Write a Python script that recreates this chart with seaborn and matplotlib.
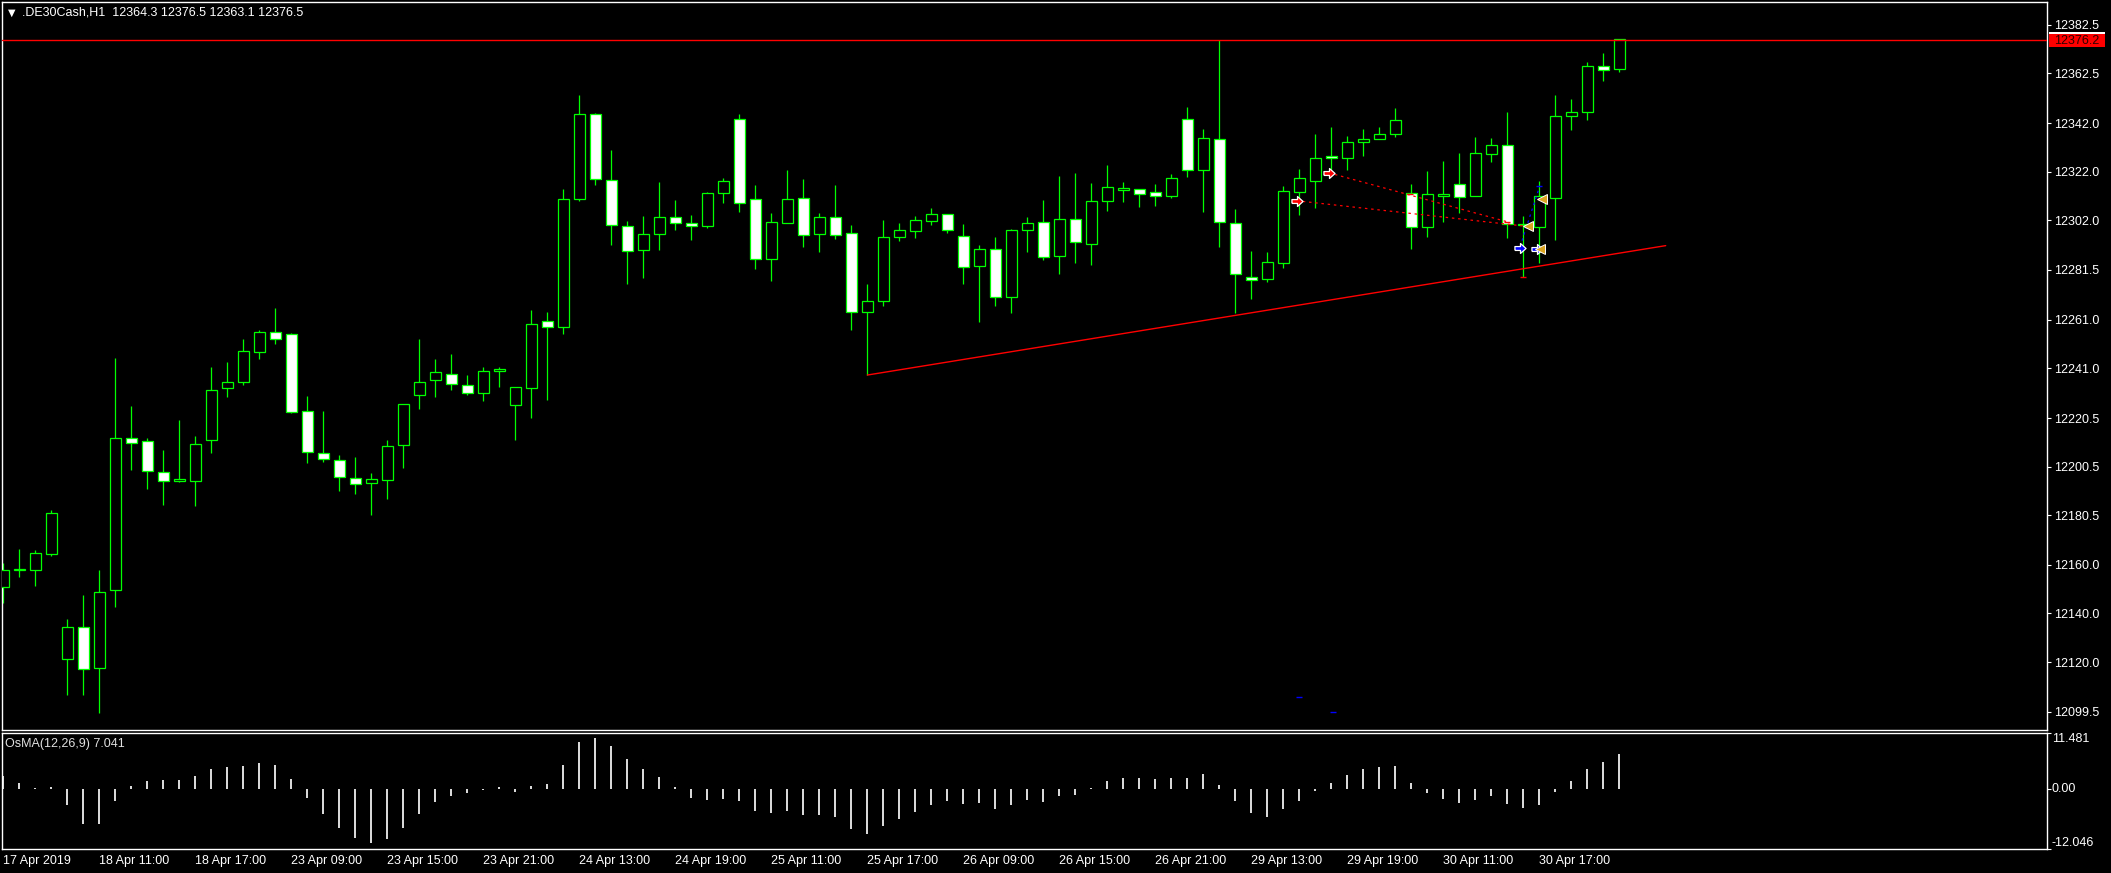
import matplotlib
matplotlib.use("Agg")
import matplotlib.pyplot as plt
from matplotlib.patches import Rectangle
import numpy as np
import seaborn as sns

# chart header / labels
title_text = ".DE30Cash,H1  12364.3 12376.5 12363.1 12376.5"
osma_title = "OsMA(12,26,9) 7.041"
bid_price = 12376.2

# H1 candles (bar 0 = 17 Apr 19:00)
opens = [12150.7, 12157.8, 12158.0, 12164.3, 12121.4, 12134.3, 12117.4, 12149.5, 12212.4, 12210.9,
         12198.1, 12194.4, 12194.4, 12211.4, 12232.7, 12235.2, 12247.5, 12256.1, 12255.3, 12223.2,
         12205.9, 12203.4, 12196.0, 12193.7, 12194.9, 12209.3, 12229.8, 12236.0, 12238.8, 12234.0,
         12230.7, 12239.7, 12225.8, 12232.7, 12260.3, 12257.9, 12310.9, 12345.6, 12318.4, 12299.5,
         12289.6, 12296.2, 12303.1, 12300.7, 12299.7, 12313.3, 12343.5, 12310.6, 12286.1, 12301.0,
         12311.0, 12296.4, 12303.2, 12296.6, 12264.3, 12268.8, 12295.2, 12297.7, 12301.8, 12304.4,
         12295.3, 12283.2, 12290.0, 12270.5, 12298.1, 12301.1, 12287.4, 12302.3, 12292.3, 12310.0,
         12314.5, 12314.7, 12313.4, 12312.1, 12343.5, 12322.5, 12335.3, 12300.7, 12278.4, 12277.6,
         12284.5, 12313.7, 12318.3, 12328.3, 12327.7, 12334.3, 12335.6, 12337.6, 12313.3, 12299.3,
         12312.1, 12316.8, 12312.1, 12329.4, 12332.8, 12300.0, 12299.0, 12311.3, 12345.0, 12346.7,
         12365.4, 12364.3]
highs = [12160.8, 12166.5, 12166.0, 12182.5, 12137.7, 12147.8, 12157.7, 12245.4, 12225.4, 12212.4,
         12207.2, 12219.7, 12213.1, 12241.4, 12243.7, 12253.0, 12256.8, 12265.8, 12255.5, 12229.6,
         12223.4, 12205.3, 12204.5, 12197.9, 12211.4, 12226.3, 12253.0, 12244.9, 12247.0, 12238.3,
         12241.6, 12241.6, 12233.2, 12265.0, 12264.1, 12314.9, 12353.6, 12346.1, 12330.9, 12301.7,
         12303.6, 12317.7, 12310.2, 12304.2, 12313.5, 12319.2, 12345.7, 12316.5, 12304.9, 12322.6,
         12318.9, 12304.9, 12316.5, 12300.0, 12275.7, 12302.1, 12300.8, 12303.7, 12307.0, 12304.6,
         12300.4, 12291.8, 12295.0, 12298.3, 12303.3, 12310.3, 12320.2, 12321.4, 12317.3, 12324.7,
         12317.7, 12315.0, 12316.9, 12321.0, 12348.6, 12339.5, 12376.0, 12306.6, 12289.3, 12288.7,
         12316.1, 12323.1, 12337.5, 12340.4, 12336.7, 12339.5, 12340.4, 12348.2, 12316.9, 12322.2,
         12326.4, 12329.7, 12336.2, 12335.8, 12346.5, 12303.7, 12318.0, 12353.5, 12351.9, 12367.1,
         12370.9, 12376.5]
lows = [12144.3, 12155.1, 12151.2, 12163.7, 12106.5, 12106.5, 12099.2, 12142.6, 12198.9, 12191.1,
        12184.5, 12194.2, 12184.2, 12206.2, 12229.3, 12234.1, 12245.0, 12251.1, 12222.7, 12201.9,
        12202.4, 12190.3, 12189.0, 12180.7, 12187.3, 12199.8, 12224.1, 12229.3, 12231.9, 12230.1,
        12227.5, 12233.1, 12211.6, 12220.6, 12227.9, 12254.9, 12309.7, 12316.6, 12291.7, 12275.9,
        12278.3, 12289.9, 12297.8, 12293.9, 12298.9, 12308.9, 12305.5, 12281.9, 12276.9, 12300.8,
        12290.9, 12288.9, 12294.2, 12256.7, 12238.2, 12266.6, 12293.4, 12294.8, 12300.0, 12296.8,
        12275.7, 12260.2, 12266.6, 12263.7, 12288.9, 12285.6, 12279.8, 12284.3, 12283.5, 12305.8,
        12309.5, 12307.5, 12308.0, 12311.3, 12319.8, 12305.3, 12290.9, 12263.6, 12269.4, 12276.7,
        12282.4, 12304.1, 12307.1, 12321.3, 12322.7, 12328.4, 12335.4, 12336.4, 12290.3, 12295.2,
        12301.4, 12305.1, 12311.8, 12326.1, 12294.8, 12278.4, 12284.2, 12293.8, 12339.1, 12343.4,
        12359.3, 12363.1]
closes = [12157.7, 12158.3, 12164.8, 12181.2, 12134.6, 12117.1, 12149.0, 12212.4, 12210.2, 12198.6,
          12194.4, 12195.3, 12209.7, 12232.2, 12235.2, 12248.0, 12255.8, 12253.0, 12222.9, 12206.4,
          12203.6, 12196.2, 12193.2, 12195.3, 12208.8, 12226.1, 12235.2, 12239.3, 12234.5, 12230.7,
          12239.7, 12240.5, 12233.1, 12259.1, 12257.9, 12310.6, 12345.6, 12318.9, 12300.0, 12289.1,
          12296.2, 12303.1, 12300.7, 12299.5, 12313.0, 12318.0, 12309.2, 12286.1, 12301.1, 12310.6,
          12296.0, 12303.2, 12296.0, 12264.3, 12268.6, 12294.9, 12297.8, 12301.9, 12304.4, 12298.1,
          12282.8, 12290.0, 12270.5, 12297.8, 12300.7, 12287.0, 12302.3, 12293.1, 12309.7, 12315.5,
          12315.1, 12312.9, 12311.8, 12319.4, 12322.5, 12335.7, 12301.4, 12279.7, 12277.2, 12284.6,
          12313.9, 12319.2, 12327.5, 12327.5, 12334.1, 12335.4, 12337.3, 12343.2, 12299.3, 12312.6,
          12312.8, 12311.4, 12329.5, 12332.8, 12300.4, 12300.6, 12311.9, 12344.8, 12346.4, 12365.4,
          12364.0, 12376.5]

osma = [2.63, 1.21, 0.27, 0.41, -3.23, -7.07, -7.07, -2.43, 0.61, 1.69,
        1.82, 1.82, 2.63, 4.04, 4.44, 4.65, 5.26, 4.85, 2.02, -1.82,
        -5.05, -7.89, -9.90, -10.91, -10.11, -7.89, -5.05, -2.63, -1.42, -0.81,
        -0.20, 0.41, -0.61, 0.61, 1.01, 4.85, 9.56, 10.31, 8.69, 6.06,
        4.04, 2.43, 0.41, -1.82, -2.22, -2.02, -2.43, -4.44, -4.85, -4.44,
        -5.26, -5.26, -5.66, -8.08, -9.10, -7.48, -6.06, -4.65, -3.23, -2.43,
        -3.04, -2.83, -4.04, -3.23, -2.22, -2.63, -1.42, -1.21, 0.27, 1.62,
        2.22, 2.22, 2.02, 2.22, 2.22, 3.04, 0.81, -2.43, -4.85, -5.66,
        -4.04, -2.43, -0.41, 1.21, 2.83, 4.04, 4.44, 4.65, 1.21, -0.81,
        -2.02, -2.83, -2.22, -1.42, -3.04, -3.84, -3.23, -0.49, 1.62, 4.04,
        5.46, 7.041]

bar_idx = np.arange(len(opens))

time_ticks = [0, 6, 12, 18, 24, 30, 36, 42, 48, 54, 60, 66, 72, 78, 84, 90, 96]
time_labels = ["17 Apr 2019", "18 Apr 11:00", "18 Apr 17:00", "23 Apr 09:00", "23 Apr 15:00",
               "23 Apr 21:00", "24 Apr 13:00", "24 Apr 19:00", "25 Apr 11:00", "25 Apr 17:00",
               "26 Apr 09:00", "26 Apr 15:00", "26 Apr 21:00", "29 Apr 13:00", "29 Apr 19:00",
               "30 Apr 11:00", "30 Apr 17:00"]
price_ticks = [12382.5, 12362.5, 12342.0, 12322.0, 12302.0, 12281.5, 12261.0, 12241.0,
               12220.5, 12200.5, 12180.5, 12160.0, 12140.0, 12120.0, 12099.5]
osma_ticks = [-12.046, 0.0, 11.481]
osma_tick_labels = ["-12.046", "0.00", "11.481"]

# trend line and trade arrows
trend_x = [54, 103.9]
trend_y = [12238.2, 12291.5]
sell_x = [80.83, 82.85]
sell_y = [12310.0, 12321.5]
close_x = [95.3, 96.16, 96.04]
close_y = [12299.6, 12310.6, 12290.0]
buy_x = [94.79, 95.85]
buy_y = [12290.4, 12290.0]
trade_a_x = [82.85, 93.96]
trade_a_y = [12321.5, 12301.4]
trade_b_x = [80.83, 95.01]
trade_b_y = [12310.0, 12299.6]
trade_c_x = [94.8, 96.0]
trade_c_y = [12291.1, 12315.5]
red_dash_x = [87.94, 93.96, 95.0]
red_dash_y = [12312.6, 12301.4, 12278.4]
blue_dash_x = [96.0, 80.97, 83.11]
blue_dash_y = [12316.1, 12105.6, 12099.4]

sns.set_theme(style="dark", rc={"axes.facecolor": "black", "figure.facecolor": "black",
                                "axes.edgecolor": "white", "axes.grid": False})
plt.rcParams["font.family"] = ["Liberation Sans", "DejaVu Sans"]

W, H = 2111, 873
fig = plt.figure(figsize=(W / 100, H / 100), dpi=100)
fig.patch.set_facecolor("black")
ax = fig.add_axes([2 / W, 1 - 730 / H, 2045 / W, 728 / H])
ax2 = fig.add_axes([2 / W, 1 - 849 / H, 2045 / W, 116.5 / H])

green = "#00FF00"
o = np.array(opens)
c = np.array(closes)
bull = c >= o
ax.vlines(bar_idx, lows, highs, colors=green, linewidth=0.9, zorder=2)
ax.bar(bar_idx, np.abs(c - o), bottom=np.minimum(o, c), width=0.69,
       color=np.where(bull, "black", "white"), edgecolor=green, linewidth=0.9, zorder=3)

ax.axhline(bid_price, color="#FF0000", linewidth=1.0, zorder=4)
ax.plot(trend_x, trend_y, color="#FF0000", linewidth=1.0, zorder=4)
ax.plot(trade_a_x, trade_a_y, color="#FF0000", linewidth=0.9, linestyle=(0, (2, 3)), zorder=5)
ax.plot(trade_b_x, trade_b_y, color="#FF0000", linewidth=0.9, linestyle=(0, (2, 3)), zorder=5)
ax.plot(trade_c_x, trade_c_y, color="#0000FF", linewidth=0.9, linestyle=(0, (2, 3)), zorder=5)
ax.plot(red_dash_x, red_dash_y, linestyle="none", marker="_", color="#FF0000", markersize=5, zorder=6)
ax.plot(blue_dash_x, blue_dash_y, linestyle="none", marker="_", color="#0000FF", markersize=5, zorder=6)

# block arrow like the terminal's trade arrows
arrow_marker = [(-1, -0.35), (0, -0.35), (0, -0.9), (1, 0), (0, 0.9), (0, 0.35), (-1, 0.35), (-1, -0.35)]
ax.plot(sell_x, sell_y, linestyle="none", marker=arrow_marker, markersize=8, color="#FF0000",
        markeredgecolor="white", markeredgewidth=0.9, zorder=7)
ax.plot(buy_x, buy_y, linestyle="none", marker=arrow_marker, markersize=8, color="#0000FF",
        markeredgecolor="white", markeredgewidth=0.9, zorder=7)
ax.plot(close_x, close_y, linestyle="none", marker="<", markersize=7, color="#DAA520",
        markeredgecolor="white", markeredgewidth=0.7, zorder=7)

xmin = -0.081
xmax = xmin + 2045 / 16
ax.set_xlim(xmin, xmax)
ax.set_ylim(12092.0, 12391.85)
ax.yaxis.tick_right()
ax.set_yticks(price_ticks)
ax.set_yticklabels([f"{v:.1f}" for v in price_ticks])
ax.tick_params(axis="y", colors="white", labelcolor="white", labelsize=9, length=3, width=0.8,
               pad=2, direction="out", right=True, left=False)
ax.tick_params(axis="x", bottom=False, labelbottom=False)
for sp in ax.spines.values():
    sp.set_color("white")
    sp.set_linewidth(1.0)

# OsMA histogram
sns.barplot(x=bar_idx, y=osma, ax=ax2, native_scale=True, color="#D8D8D8", saturation=1,
            width=0.13, errorbar=None, linewidth=0)
ax2.set_xlim(xmin, xmax)
ax2.set_ylim(-12.046, 11.481)
ax2.yaxis.tick_right()
ax2.set_yticks(osma_ticks)
ax2.set_yticklabels(osma_tick_labels)
for lbl, va in zip(ax2.get_yticklabels(), ["bottom", "center", "top"]):
    lbl.set_va(va)
ax2.tick_params(axis="y", colors="white", labelcolor="white", labelsize=9, length=3, width=0.8,
                pad=0.5, right=True, left=False)
ax2.set_xticks(time_ticks)
ax2.set_xticklabels(time_labels)
ax2.tick_params(axis="x", colors="white", labelcolor="white", labelsize=9, length=3, width=0.8, pad=1)
plt.setp(ax2.get_xticklabels(), ha="left")
ax2.set_xlabel("")
ax2.set_ylabel("")
for sp in ax2.spines.values():
    sp.set_color("white")
    sp.set_linewidth(1.0)

# header texts and price label
fig.text(8 / W, 1 - 12.5 / H, "\u25bc", color="white", fontsize=7, va="center", ha="left",
         family=["DejaVu Sans"])
fig.text(22 / W, 1 - 12.5 / H, title_text, color="white", fontsize=9, va="center", ha="left")
fig.text(5 / W, 1 - 744 / H, osma_title, color="#E0E0E0", fontsize=9, va="center", ha="left")
fig.patches.append(Rectangle((2049 / W, 1 - 47 / H), 56 / W, 13.5 / H, transform=fig.transFigure,
                             facecolor="#FF0000", edgecolor="none"))
fig.patches.append(Rectangle((2049 / W, 1 - 33.5 / H), 56 / W, 2 / H, transform=fig.transFigure,
                             facecolor="white", edgecolor="none"))
fig.text(2054 / W, 1 - 40.5 / H, f"{bid_price:.1f}", color="#300000", fontsize=9, va="center", ha="left")

fig.savefig("out.png", dpi=100, facecolor="black")
